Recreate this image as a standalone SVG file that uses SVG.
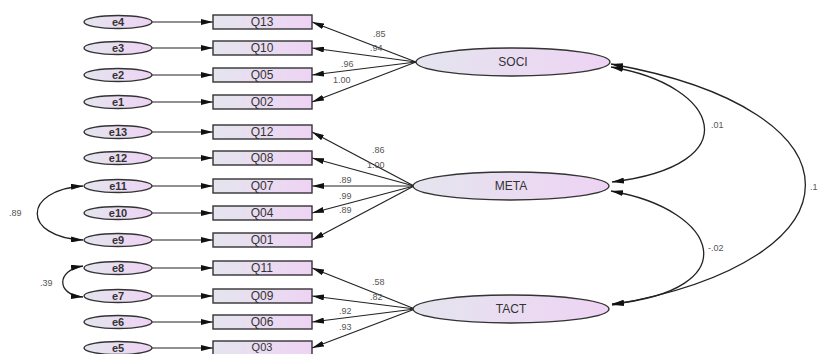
<svg xmlns="http://www.w3.org/2000/svg" width="825" height="354" viewBox="0 0 825 354">
  <defs>
    <linearGradient id="fillGrad" x1="0" y1="0" x2="1" y2="0">
      <stop offset="0" stop-color="#e4e5ee"/>
      <stop offset="1" stop-color="#eed3f4"/>
    </linearGradient>
    <marker id="arrow" viewBox="0 0 12 6" refX="12" refY="3" markerWidth="12" markerHeight="6" markerUnits="userSpaceOnUse" orient="auto">
      <path d="M0,0 L12,3 L0,6 Z" fill="#111"/>
    </marker>
    <marker id="arrowStart" viewBox="0 0 12 6" refX="0" refY="3" markerWidth="12" markerHeight="6" markerUnits="userSpaceOnUse" orient="auto">
      <path d="M12,0 L0,3 L12,6 Z" fill="#111"/>
    </marker>
  </defs>
  <style>
    .box { fill: url(#fillGrad); stroke: #333; stroke-width: 1.4; }
    .err { fill: url(#fillGrad); stroke: #333; stroke-width: 1.4; }
    .lat { fill: url(#fillGrad); stroke: #333; stroke-width: 1.4; }
    .lbl { font-family: "Liberation Sans", Arial, sans-serif; font-size: 11px; fill: #333; text-anchor: middle; font-weight: bold; }
    .qlbl { font-family: "Liberation Sans", Arial, sans-serif; font-size: 12px; fill: #333; text-anchor: middle; }
    .num { font-family: "Liberation Sans", Arial, sans-serif; font-size: 9px; fill: #555; }
    .edge { stroke: #222; stroke-width: 1.2; fill: none; marker-end: url(#arrow); }
    .cov { stroke: #222; stroke-width: 1.3; fill: none; marker-end: url(#arrow); marker-start: url(#arrowStart); }
  </style>

  <!-- connectors -->
  <g id="connectors">
    <!-- error terms to indicators -->
    <line class="edge" x1="152" y1="22" x2="213" y2="22"/>
    <line class="edge" x1="152" y1="48" x2="213" y2="48"/>
    <line class="edge" x1="152" y1="75" x2="213" y2="75"/>
    <line class="edge" x1="152" y1="102" x2="213" y2="102"/>
    <line class="edge" x1="152" y1="132" x2="213" y2="132"/>
    <line class="edge" x1="152" y1="158" x2="213" y2="158"/>
    <line class="edge" x1="152" y1="186" x2="213" y2="186"/>
    <line class="edge" x1="152" y1="213" x2="213" y2="213"/>
    <line class="edge" x1="152" y1="240" x2="213" y2="240"/>
    <line class="edge" x1="152" y1="268" x2="213" y2="268"/>
    <line class="edge" x1="152" y1="296" x2="213" y2="296"/>
    <line class="edge" x1="152" y1="322" x2="213" y2="322"/>
    <line class="edge" x1="152" y1="348" x2="213" y2="348"/>

    <!-- SOCI loadings -->
    <line class="edge" x1="416" y1="62" x2="312" y2="22"/>
    <line class="edge" x1="416" y1="62" x2="312" y2="48"/>
    <line class="edge" x1="416" y1="62" x2="312" y2="75"/>
    <line class="edge" x1="416" y1="62" x2="312" y2="102"/>

    <!-- META loadings -->
    <line class="edge" x1="414" y1="186" x2="312" y2="132"/>
    <line class="edge" x1="414" y1="186" x2="312" y2="158"/>
    <line class="edge" x1="414" y1="186" x2="312" y2="186"/>
    <line class="edge" x1="414" y1="186" x2="312" y2="213"/>
    <line class="edge" x1="414" y1="186" x2="312" y2="240"/>

    <!-- TACT loadings -->
    <line class="edge" x1="415" y1="309" x2="312" y2="268"/>
    <line class="edge" x1="415" y1="309" x2="312" y2="296"/>
    <line class="edge" x1="415" y1="309" x2="312" y2="322"/>
    <line class="edge" x1="415" y1="309" x2="312" y2="348"/>

    <!-- latent covariances -->
    <path class="cov" d="M611,67 C720,85 750,165 612,182"/>
    <path class="cov" d="M611,191 C720,210 748,290 612,304"/>
    <path class="cov" d="M611,64 C870,110 870,260 612,305"/>

    <!-- error covariances -->
    <path class="cov" d="M83,186 C22,190 22,237 83,240"/>
    <path class="cov" d="M83,266 C56,270 56,295 83,297"/>
  </g>

  <!-- error terms -->
  <g id="e4"><ellipse class="err" cx="118" cy="22" rx="34" ry="6.5"/><text class="lbl" x="118" y="26">e4</text></g>
  <g id="e3"><ellipse class="err" cx="118" cy="48" rx="34" ry="6.5"/><text class="lbl" x="118" y="52">e3</text></g>
  <g id="e2"><ellipse class="err" cx="118" cy="75" rx="34" ry="6.5"/><text class="lbl" x="118" y="79">e2</text></g>
  <g id="e1"><ellipse class="err" cx="118" cy="102" rx="34" ry="6.5"/><text class="lbl" x="118" y="106">e1</text></g>
  <g id="e13"><ellipse class="err" cx="118" cy="132" rx="34" ry="6.5"/><text class="lbl" x="118" y="136">e13</text></g>
  <g id="e12"><ellipse class="err" cx="118" cy="158" rx="34" ry="6.5"/><text class="lbl" x="118" y="162">e12</text></g>
  <g id="e11"><ellipse class="err" cx="118" cy="186" rx="34" ry="6.5"/><text class="lbl" x="118" y="190">e11</text></g>
  <g id="e10"><ellipse class="err" cx="118" cy="213" rx="34" ry="6.5"/><text class="lbl" x="118" y="217">e10</text></g>
  <g id="e9"><ellipse class="err" cx="118" cy="240" rx="34" ry="6.5"/><text class="lbl" x="118" y="244">e9</text></g>
  <g id="e8"><ellipse class="err" cx="118" cy="268" rx="34" ry="6.5"/><text class="lbl" x="118" y="272">e8</text></g>
  <g id="e7"><ellipse class="err" cx="118" cy="296" rx="34" ry="6.5"/><text class="lbl" x="118" y="300">e7</text></g>
  <g id="e6"><ellipse class="err" cx="118" cy="322" rx="34" ry="6.5"/><text class="lbl" x="118" y="326">e6</text></g>
  <g id="e5"><ellipse class="err" cx="118" cy="348" rx="34" ry="6.5"/><text class="lbl" x="118" y="352">e5</text></g>

  <!-- observed indicators -->
  <g id="Q13"><rect class="box" x="213" y="15" width="99" height="14"/><text class="qlbl" x="262" y="26">Q13</text></g>
  <g id="Q10"><rect class="box" x="213" y="41" width="99" height="14"/><text class="qlbl" x="262" y="52">Q10</text></g>
  <g id="Q05"><rect class="box" x="213" y="68" width="99" height="14"/><text class="qlbl" x="262" y="79">Q05</text></g>
  <g id="Q02"><rect class="box" x="213" y="95" width="99" height="14"/><text class="qlbl" x="262" y="106">Q02</text></g>
  <g id="Q12"><rect class="box" x="213" y="125" width="99" height="14"/><text class="qlbl" x="262" y="136">Q12</text></g>
  <g id="Q08"><rect class="box" x="213" y="151" width="99" height="14"/><text class="qlbl" x="262" y="162">Q08</text></g>
  <g id="Q07"><rect class="box" x="213" y="179" width="99" height="14"/><text class="qlbl" x="262" y="190">Q07</text></g>
  <g id="Q04"><rect class="box" x="213" y="206" width="99" height="14"/><text class="qlbl" x="262" y="217">Q04</text></g>
  <g id="Q01"><rect class="box" x="213" y="233" width="99" height="14"/><text class="qlbl" x="262" y="244">Q01</text></g>
  <g id="Q11"><rect class="box" x="213" y="261" width="99" height="14"/><text class="qlbl" x="262" y="272">Q11</text></g>
  <g id="Q09"><rect class="box" x="213" y="289" width="99" height="14"/><text class="qlbl" x="262" y="300">Q09</text></g>
  <g id="Q06"><rect class="box" x="213" y="315" width="99" height="14"/><text class="qlbl" x="262" y="326">Q06</text></g>
  <g id="Q03"><rect class="box" x="213" y="341" width="99" height="14"/><text class="qlbl" x="262" y="351" style="font-size:11px">Q03</text></g>

  <!-- latent factors -->
  <g id="SOCI"><ellipse class="lat" cx="513" cy="62" rx="97" ry="14"/><text class="qlbl" x="513" y="66">SOCI</text></g>
  <g id="META"><ellipse class="lat" cx="511" cy="186" rx="98" ry="14"/><text class="qlbl" x="511" y="190">META</text></g>
  <g id="TACT"><ellipse class="lat" cx="511" cy="309" rx="98" ry="14"/><text class="qlbl" x="511" y="313">TACT</text></g>

  <!-- estimates -->
  <g id="estimates">
    <text class="num" x="373" y="37">.85</text>
    <text class="num" x="370" y="51">.94</text>
    <text class="num" x="341" y="67">.96</text>
    <text class="num" x="333" y="83">1.00</text>

    <text class="num" x="372" y="153">.86</text>
    <text class="num" x="367" y="168">1.00</text>
    <text class="num" x="339" y="183">.89</text>
    <text class="num" x="339" y="199">.99</text>
    <text class="num" x="339" y="213">.89</text>

    <text class="num" x="372" y="285">.58</text>
    <text class="num" x="370" y="300">.82</text>
    <text class="num" x="339" y="314">.92</text>
    <text class="num" x="339" y="330">.93</text>

    <text class="num" x="711" y="128">.01</text>
    <text class="num" x="708" y="251">-.02</text>
    <text class="num" x="810" y="190">.1</text>

    <text class="num" x="9" y="216">.89</text>
    <text class="num" x="40" y="286">.39</text>
  </g>
</svg>
